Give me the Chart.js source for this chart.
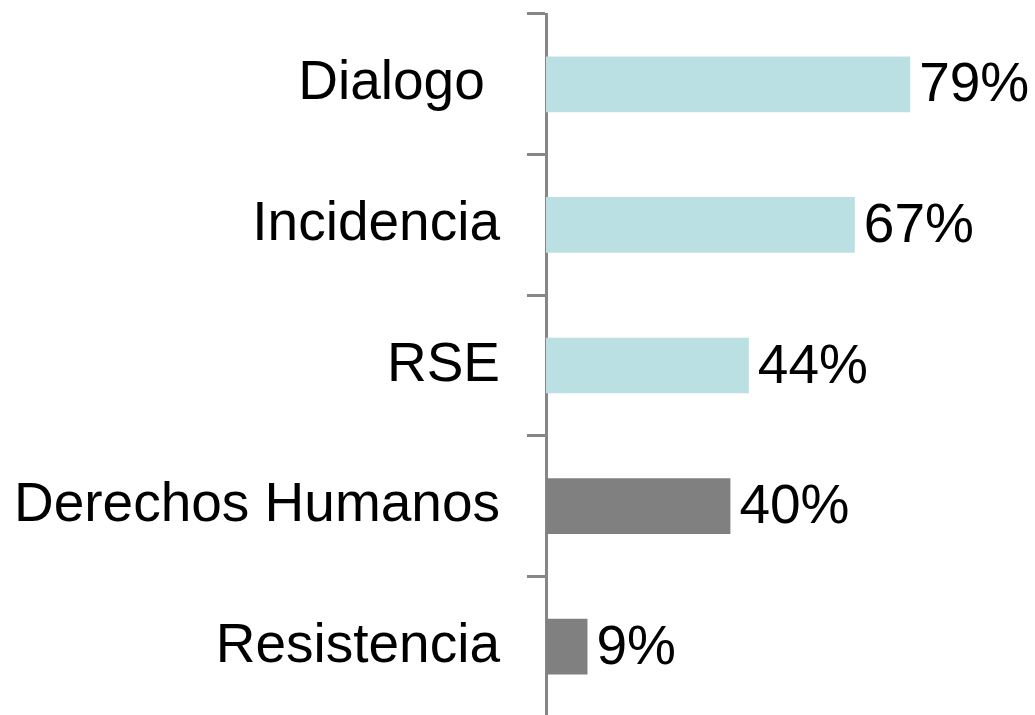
<!DOCTYPE html>
<html>
<head>
<meta charset="utf-8">
<script src="https://cdn.jsdelivr.net/npm/chart.js@4/dist/chart.umd.min.js"></script>
<style>
  html, body { margin: 0; padding: 0; background: #fff; overflow: hidden; }
  #wrap { width: 1035px; height: 720px; position: relative; }
</style>
</head>
<body>
<div id="wrap"><canvas id="bars"></canvas></div>
<script>
// data
const categories = ['Dialogo ', 'Incidencia', 'RSE', 'Derechos Humanos', 'Resistencia'];
const values = [79, 67, 44, 40, 9];
const barColors = ['#bbe0e3', '#bbe0e3', '#bbe0e3', '#808080', '#808080'];

const FONT = '"Liberation Sans", Arial, sans-serif';

// percentage labels at the end of each bar
const valueLabels = {
    id: 'valueLabels',
    afterDatasetsDraw(chart) {
        const ctx = chart.ctx;
        const meta = chart.getDatasetMeta(0);
        ctx.save();
        ctx.font = '55px ' + FONT;
        ctx.fillStyle = '#000';
        ctx.textAlign = 'left';
        ctx.textBaseline = 'middle';
        meta.data.forEach((bar, i) => {
            ctx.fillText(values[i] + '%', bar.x + 9, bar.y + 2);
        });
        ctx.restore();
    }
};

new Chart(document.getElementById('bars').getContext('2d'), {
    type: 'bar',
    data: {
        labels: categories,
        datasets: [{
            data: values,
            backgroundColor: barColors,
            borderWidth: 0,
            barPercentage: 0.396,
            categoryPercentage: 1
        }]
    },
    options: {
        indexAxis: 'y',
        responsive: true,
        maintainAspectRatio: false,
        animation: false,
        layout: { padding: { top: 14, right: 28, bottom: 3, left: 0 } },
        plugins: { legend: { display: false }, tooltip: { enabled: false } },
        scales: {
            x: { display: false, min: 0, max: 100 },
            y: {
                // pin the axis line where the reference has it
                afterFit: (scale) => {
                    scale.width = 546;
                    scale.paddingTop = 0;
                    scale.paddingBottom = 0;
                },
                border: { display: true, color: '#868686', width: 3 },
                grid: {
                    drawOnChartArea: false,
                    drawTicks: true,
                    tickLength: 19,
                    tickWidth: 3,
                    tickColor: '#868686',
                    offset: true
                },
                ticks: {
                    color: '#000',
                    padding: 27,
                    font: { family: FONT, size: 55 }
                }
            }
        }
    },
    plugins: [valueLabels]
});
</script>
</body>
</html>
